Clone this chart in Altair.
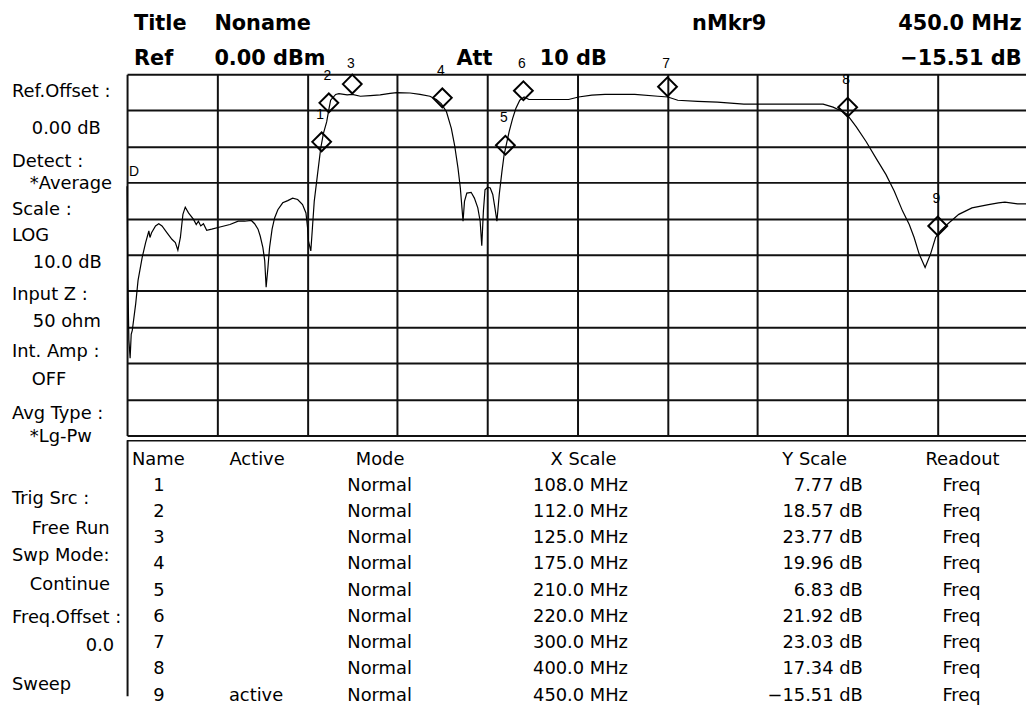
import altair as alt
import pandas as pd

# ---------------- data ----------------
trace_freq = [0.0, 0.4, 1.0, 1.7, 2.3, 2.9, 4.8, 6.1, 8.4, 10.3, 12.1, 12.7, 13.6, 15.8, 17.6, 19.4,
              22.2, 24.9, 26.8, 28.2, 29.6, 31.0, 32.3, 34.1, 36.9, 38.4, 39.6, 40.9, 42.4, 44.2,
              47.0, 51.6, 57.1, 61.7, 65.3, 69.0, 70.8, 72.7, 73.9, 75.4, 76.4, 77.2, 78.2, 79.1,
              80.5, 81.9, 83.7, 86.4, 89.2, 91.9, 94.7, 97.4, 99.3, 100.2, 100.7, 102.0, 102.9,
              103.9, 105.7, 107.5, 109.0, 110.8, 112.1, 113.0, 115.8, 117.6, 122.2, 125.0, 129.5,
              135.0, 140.5, 146.0, 149.7, 157.1, 162.6, 168.1, 171.7, 174.5, 177.3, 180.0, 181.8,
              183.7, 185.0, 185.9, 186.5, 187.3, 188.6, 191.0, 192.8, 194.7, 196.0, 196.9, 197.8,
              198.7, 200.2, 201.6, 203.0, 204.2, 205.3, 206.6, 208.1, 209.3, 210.7, 212.1, 214.0,
              215.8, 218.0, 220.4, 223.1, 232.3, 245.1, 250.6, 258.0, 265.3, 273.6, 281.8, 294.7,
              300.2, 305.7, 316.7, 327.7, 342.4, 362.6, 386.4, 391.9, 397.4, 399.3, 402.0, 404.8,
              410.3, 415.8, 421.3, 425.9, 430.5, 434.2, 436.9, 439.7, 443.0, 446.0, 448.8, 451.5,
              455.2, 461.7, 469.0, 478.2, 483.7, 487.3, 494.3, 499.0]
trace_db = [-4.5, -29.8, -47.0, -52.1, -45.5, -44.4, -37.0, -30.6, -24.2, -20.1, -16.9, -18.7, -17.4,
            -15.5, -14.9, -15.5, -17.4, -19.2, -20.1, -22.2, -18.7, -12.3, -10.3, -11.9, -13.7, -15.1,
            -14.2, -15.5, -14.9, -16.7, -16.4, -15.8, -15.1, -14.2, -14.2, -14.0, -14.9, -16.4, -18.3,
            -21.5, -25.1, -32.5, -27.0, -21.5, -16.4, -13.3, -11.0, -9.1, -8.5, -7.8, -8.2, -9.6,
            -11.9, -16.0, -19.7, -22.4, -16.0, -8.7, -1.3, 6.0, 10.1, 13.3, 17.0, 19.3, 20.9, 21.1,
            20.8, 20.9, 20.4, 20.6, 20.8, 21.2, 21.4, 21.3, 20.9, 20.4, 19.5, 18.3, 16.1, 11.5, 6.9,
            0.5, -5.0, -10.5, -14.2, -8.7, -6.4, -6.2, -7.8, -10.5, -14.2, -21.0, -11.4, -5.5, -4.8,
            -5.0, -6.8, -10.5, -14.2, -6.8, -0.4, 4.2, 7.4, 10.6, 14.2, 17.0, 19.3, 20.2, 19.5, 19.5,
            19.5, 20.2, 20.7, 20.9, 20.9, 20.9, 20.4, 20.2, 19.3, 19.0, 18.8, 18.2, 18.2, 18.2, 17.4,
            16.1, 15.6, 13.8, 11.9, 7.8, 3.2, -1.3, -5.9, -11.4, -15.1, -18.7, -23.3, -27.0, -23.3,
            -18.7, -16.9, -15.1, -12.3, -10.5, -9.6, -9.1, -8.9, -9.4, -9.4]

marker_names = ["1", "2", "3", "4", "5", "6", "7", "8", "9"]
marker_freq = [108.0, 112.0, 125.0, 175.0, 210.0, 220.0, 300.0, 400.0, 450.0]
marker_db = [7.77, 18.57, 23.77, 19.96, 6.83, 21.92, 23.03, 17.34, -15.51]
marker_active = ["", "", "", "", "", "", "", "", "active"]
marker_mode = ["Normal", "Normal", "Normal", "Normal", "Normal", "Normal", "Normal", "Normal", "Normal"]
marker_readout = ["Freq", "Freq", "Freq", "Freq", "Freq", "Freq", "Freq", "Freq", "Freq"]
table_headers = ["Name", "Active", "Mode", "X Scale", "Y Scale", "Readout"]

title_name = "Noname"
ref_level = "0.00 dBm"
attenuation = "10 dB"
side_titles = ["Ref.Offset :", "Detect :", "Scale :", "LOG", "Input Z :", "Int. Amp :",
               "Avg Type :", "Trig Src :", "Swp Mode:", "Freq.Offset :", "Sweep"]
side_values = ["0.00 dB", "*Average", "10.0 dB", "50 ohm", "OFF", "*Lg-Pw", "Free Run", "Continue"]
freq_offset_value = "0.0"
detector_mark = "D"

freq_grid = [0, 50, 100, 150, 200, 250, 300, 350, 400, 450]
db_grid = [26.5, 16.5, 6.5, -3.5, -13.5, -23.5, -33.5, -43.5, -53.5, -63.5, -73.5]

# ---------------- layout ----------------
W, H = 906, 364
XDOM = [0, 499.0]
YDOM = [-73.5, 26.5]
FONT = "DejaVu Sans"
FS = 18
side_title_y = [18, 88, 137, 163, 223, 280, 342, 428, 486, 548, 616]
side_value_y = [55, 111, 190, 250, 308, 366, 458, 515]

xs = alt.Scale(domain=XDOM, nice=False, zero=False)
ys = alt.Scale(domain=YDOM, nice=False, zero=False)

trace_df = pd.DataFrame({"f": trace_freq, "db": trace_db})
mk_df = pd.DataFrame({"name": marker_names, "f": marker_freq, "db": marker_db,
                      "active": marker_active, "mode": marker_mode, "readout": marker_readout})
mk_df["row"] = range(len(mk_df))
mk_df["xs"] = [f"{v:.1f} MHz" for v in marker_freq]
mk_df["ys"] = [f"{v:.2f} dB".replace("-", "\u2212") for v in marker_db]

trace = alt.Chart(trace_df).mark_line(color="black", strokeWidth=1.2).encode(
    x=alt.X("f:Q", scale=xs, axis=alt.Axis(values=freq_grid, grid=True, gridColor="#111",
                                           gridWidth=2, gridOpacity=1, labels=False, ticks=False,
                                           domain=False, title=None)),
    y=alt.Y("db:Q", scale=ys, axis=alt.Axis(values=db_grid, grid=True, gridColor="#111",
                                            gridWidth=2, gridOpacity=1, labels=False, ticks=False,
                                            domain=False, title=None)),
    order="f:Q",
)

diamonds = alt.Chart(mk_df).mark_point(shape="diamond", size=360, filled=False, color="black",
                                       strokeWidth=2, opacity=1).encode(
    x=alt.X("f:Q", scale=xs, axis=None),
    y=alt.Y("db:Q", scale=ys, axis=None),
)

mk_labels = alt.Chart(mk_df).transform_calculate(
    ly="min(datum.db + 7.42, 29.38)"
).mark_text(font="Liberation Sans", fontSize=14, color="black", dx=-1.5, baseline="middle").encode(
    x=alt.X("f:Q", scale=xs, axis=None),
    y=alt.Y("ly:Q", scale=ys, axis=None),
    text="name:N",
)


def txt(df, align, size=FS, weight="normal", baseline="middle", font=FONT):
    return alt.Chart(df).mark_text(align=align, baseline=baseline, font=font, fontSize=size,
                                   fontWeight=weight, color="black").encode(
        x=alt.X("px:Q", scale=None, axis=None),
        y=alt.Y("py:Q", scale=None, axis=None),
        text="t:N",
    )


active_i = marker_active.index("active")
hdr_left = pd.DataFrame({"t": ["Title", title_name, "nMkr" + marker_names[active_i], "Ref", ref_level, "Att", attenuation],
                         "px": [7, 88, 569.5, 7, 88, 332, 416],
                         "py": [-44.7, -44.7, -44.7, -9.5, -9.5, -9.5, -9.5]})
hdr_right = pd.DataFrame({"t": [mk_df["xs"][active_i], mk_df["ys"][active_i]],
                          "px": [901.6, 901.6], "py": [-44.7, -9.5]})

side_left = pd.DataFrame({"t": side_titles, "px": [-116] * len(side_titles), "py": side_title_y})
side_ind = pd.DataFrame({"t": side_values, "px": [-96, -98, -95, -95, -96, -98, -96, -98],
                         "py": side_value_y})
side_right = pd.DataFrame({"t": [freq_offset_value], "px": [-13], "py": [576]})
dmark = pd.DataFrame({"t": [detector_mark], "px": [2], "py": [99]})

thead_left = pd.DataFrame({"t": [table_headers[0]], "px": [5], "py": [388.5]})
thead_center = pd.DataFrame({"t": table_headers[1:], "px": [131, 255, 460, 693, 842],
                             "py": [388.5] * 5})


def col(field, xpix, align):
    return alt.Chart(mk_df).transform_calculate(py="414.7 + 26.45 * datum.row").mark_text(
        align=align, baseline="middle", font=FONT, fontSize=FS, color="black").encode(
        x=alt.value(xpix),
        y=alt.Y("py:Q", scale=None, axis=None),
        text=f"{field}:N",
    )


one = pd.DataFrame({"k": [0]})
table_top = alt.Chart(one).mark_rule(color="#111", strokeWidth=1.5).encode(
    x=alt.value(0), x2=alt.value(W), y=alt.value(369.5))
table_left = alt.Chart(one).mark_rule(color="#111", strokeWidth=2).encode(
    x=alt.value(0.5), y=alt.value(369), y2=alt.value(627))

chart = alt.layer(
    trace, diamonds, mk_labels,
    txt(hdr_left, "left", 21, "bold", "alphabetic"),
    txt(hdr_right, "right", 21, "bold", "alphabetic"),
    txt(side_left, "left"), txt(side_ind, "left"), txt(side_right, "right"),
    txt(dmark, "left", 14, font="Liberation Sans"),
    txt(thead_left, "left"), txt(thead_center, "center"),
    col("name", 32, "center"), col("active", 130, "center"), col("mode", 254.5, "center"),
    col("xs", 457, "center"), col("ys", 741.5, "right"), col("readout", 841, "center"),
    table_top, table_left,
).resolve_scale(x="independent", y="independent").properties(
    width=W, height=H,
    padding={"left": 120, "top": 64, "right": 0, "bottom": 271},
    autosize=alt.AutoSizeParams(type="none"),
    background="white",
).configure_view(stroke=None)

chart.save("out.html", embed_options={"renderer": "svg", "actions": False})
